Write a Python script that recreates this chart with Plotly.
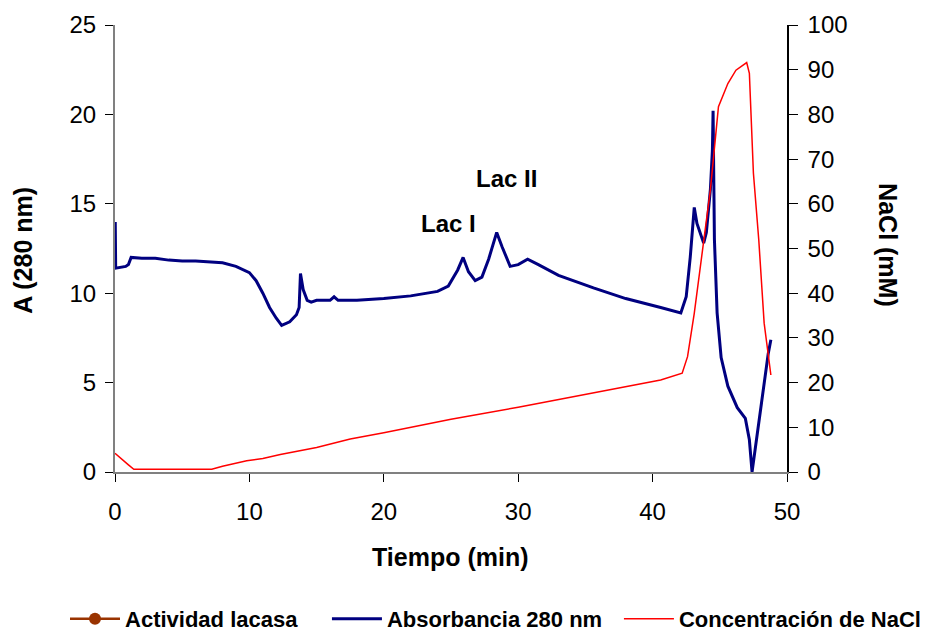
import plotly.graph_objects as go

# Absorbance at 280 nm (left axis)
abs_time = [0, 0.02, 0.05, 0.8, 1.0, 1.2, 2, 3, 4, 5, 6, 7, 8, 9, 10, 10.5, 11, 11.5, 12, 12.4,
            13.0, 13.5, 13.7, 13.8, 14.0, 14.3, 14.6, 15, 16, 16.3, 16.6, 18, 20, 22, 24, 24.8,
            25.5, 25.9, 26.3, 26.8, 27.3, 27.8, 28.4, 28.8, 29.4, 30, 30.7, 31.5, 33, 35.6, 38,
            40.6, 42.1, 42.5, 42.8, 43.1, 43.3, 43.8, 44.0, 44.3, 44.45, 44.5, 44.6, 44.8, 45.1,
            45.6, 46.3, 46.9, 47.2, 47.4, 47.8, 48.2, 48.6, 48.8]
abs_vals = [13.9, 13.9, 11.4, 11.5, 11.6, 12.0, 11.95, 11.95, 11.85, 11.8, 11.8, 11.75, 11.7, 11.5,
            11.15, 10.7, 10.0, 9.2, 8.6, 8.2, 8.4, 8.8, 9.2, 11.1, 10.2, 9.6, 9.5, 9.6, 9.6, 9.8,
            9.6, 9.6, 9.7, 9.85, 10.1, 10.4, 11.3, 12.0, 11.2, 10.7, 10.9, 11.9, 13.4, 12.6, 11.5,
            11.6, 11.9, 11.6, 11.0, 10.3, 9.7, 9.2, 8.9, 9.8, 12.0, 14.8, 13.9, 12.8, 13.4, 15.8,
            18.0, 20.2, 13.0, 8.9, 6.4, 4.8, 3.6, 3.0, 1.8, 0.0, 2.2, 4.6, 6.6, 7.4]

# NaCl concentration (right axis, mM)
nacl_time = [0, 0.5, 1.0, 1.4, 7.2, 8, 9.8, 11, 12.3, 15, 17.5, 20, 25, 30, 35, 40.6, 42.2, 42.6,
             43.1, 43.6, 44.3, 44.9, 45.6, 46.2, 47.0, 47.2, 47.5, 47.9, 48.3, 48.8]
nacl_vals = [4.2, 3.0, 1.6, 0.6, 0.6, 1.3, 2.5, 3.0, 3.9, 5.5, 7.4, 8.8, 11.8, 14.5, 17.3, 20.6,
             22.1, 25.8, 35.5, 46.8, 63.1, 81.7, 86.9, 89.9, 91.6, 89.2, 66.9, 51.9, 33.3, 21.7]

x_ticks = [0, 10, 20, 30, 40, 50]
y_ticks = [0, 5, 10, 15, 20, 25]
y2_ticks = [0, 10, 20, 30, 40, 50, 60, 70, 80, 90, 100]

FONT = "Liberation Sans, Arial, sans-serif"

fig = go.Figure()
fig.add_trace(go.Scatter(x=[None], y=[None], mode="lines+markers", name="<b>Actividad lacasa</b>",
                         line=dict(color="#993300", width=2.5),
                         marker=dict(color="#993300", size=12), legend="legend"))
fig.add_trace(go.Scatter(x=abs_time, y=abs_vals, mode="lines", name="<b>Absorbancia 280 nm</b>",
                         line=dict(color="#000080", width=3), legend="legend2"))
fig.add_trace(go.Scatter(x=nacl_time, y=nacl_vals, mode="lines", name="<b>Concentración de NaCl</b>",
                         line=dict(color="#FF0000", width=1.5), yaxis="y2", legend="legend3"))

leg_common = dict(orientation="h", xanchor="left", y=-0.329, yanchor="middle",
                  font=dict(size=22, family=FONT), itemwidth=50, bgcolor="rgba(0,0,0,0)")

fig.update_layout(
    width=930, height=633,
    margin=dict(l=115, r=143, t=25, b=161, autoexpand=False),
    plot_bgcolor="white", paper_bgcolor="white",
    font=dict(family=FONT, size=24, color="black"),
    showlegend=True,
    legend=dict(x=-0.0744, **leg_common),
    legend2=dict(x=0.3154, **leg_common),
    legend3=dict(x=0.7499, **leg_common),
    xaxis=dict(range=[0, 50], tickvals=x_ticks, showgrid=False, zeroline=False,
               showline=True, linecolor="#808080", linewidth=2, automargin=False,
               ticks="outside", ticklen=8, tickcolor="black", ticklabelstandoff=9),
    yaxis=dict(range=[0, 25], tickvals=y_ticks, showgrid=False, zeroline=False,
               showline=True, linecolor="#808080", linewidth=2, automargin=False,
               ticks="outside", ticklen=8, tickcolor="black", ticklabelstandoff=4),
    yaxis2=dict(range=[0, 100], tickvals=y2_ticks, overlaying="y", side="right",
                showgrid=False, zeroline=False, showline=True, linecolor="black", linewidth=1.5,
                automargin=False,
                ticks="outside", ticklen=9, tickcolor="black", ticklabelstandoff=5),
    annotations=[
        dict(text="<b>A (280 nm)</b>", xref="paper", yref="paper", x=-0.137, y=0.497,
             xanchor="center", yanchor="middle",
             textangle=-90, showarrow=False, font=dict(size=25)),
        dict(text="<b>NaCl (mM)</b>", xref="paper", yref="paper", x=1.15, y=0.508,
             xanchor="center", yanchor="middle",
             textangle=90, showarrow=False, font=dict(size=25)),
        dict(text="<b>Tiempo (min)</b>", xref="paper", yref="paper", x=0.4985, y=-0.19,
             xanchor="center", yanchor="middle",
             showarrow=False, font=dict(size=25)),
        dict(text="<b>Lac I</b>", xref="x", yref="y", x=24.8, y=13.9,
             xanchor="center", yanchor="middle", showarrow=False, font=dict(size=24)),
        dict(text="<b>Lac II</b>", xref="x", yref="y", x=29.1, y=16.4,
             xanchor="center", yanchor="middle", showarrow=False, font=dict(size=24)),
    ],
)

fig.write_html("out.html", config={"displayModeBar": False},
               post_script="document.body.style.margin='0';")
